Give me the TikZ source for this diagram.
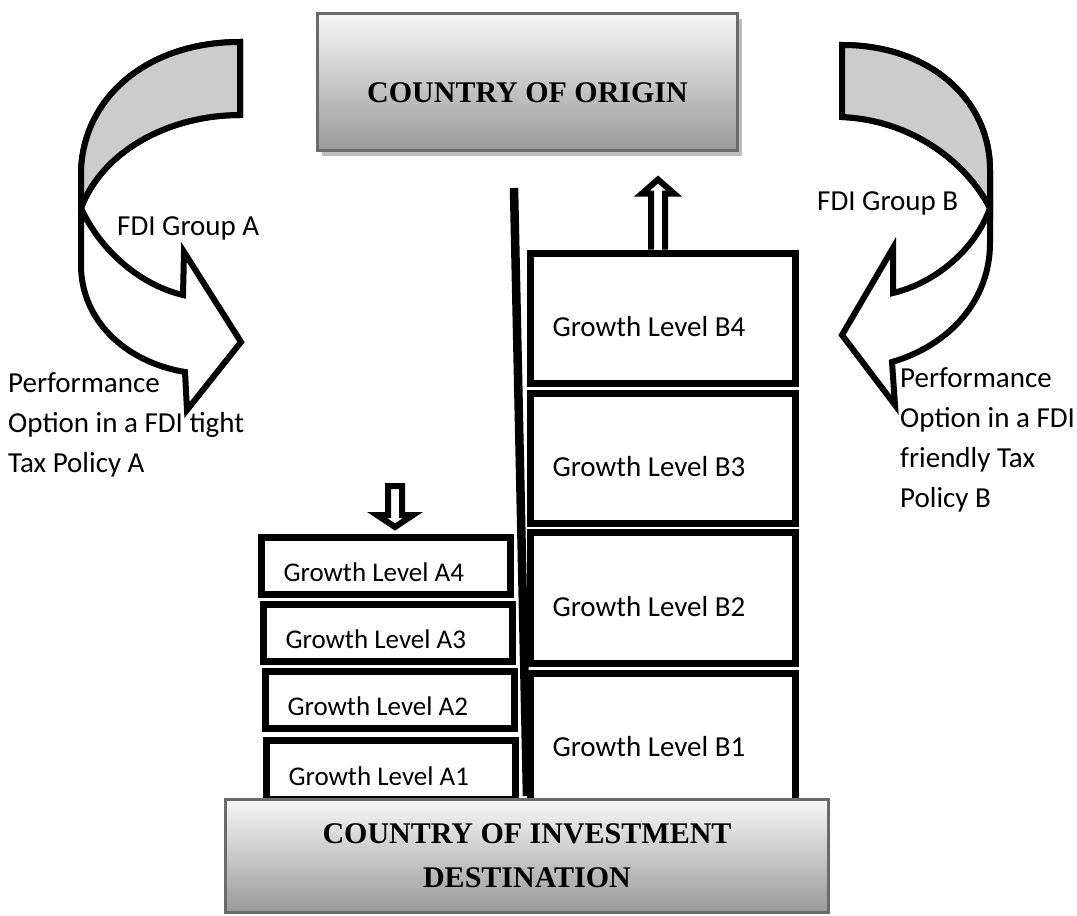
\documentclass[tikz,border=0pt]{standalone}
\usepackage{fontspec}
\setmainfont{Carlito}
\newfontfamily\timesfont{Liberation Serif}
\usetikzlibrary{shadows}

\tikzset{
	country/.style={draw=black!58, line width=3pt, top color=white!97!black, bottom color=black!40, align=center, font=\timesfont\bfseries\fontsize{30}{44}\selectfont},
	levelA/.style={draw, line width=7pt, fill=white, align=flush left, inner xsep=22pt, text width=205pt, minimum height=57pt, text height=31pt, text depth=0pt, font=\fontsize{27}{32}\selectfont},
	levelB/.style={draw, line width=7pt, fill=white, align=flush left, inner xsep=22pt, text width=221pt, minimum height=130pt, text height=36.5pt, text depth=0pt, font=\fontsize{29}{34}\selectfont},
	curvearrow/.style={draw, line width=6pt, fill=white, line join=miter},
	blockarrow/.style={draw, line width=6pt, fill=white, line join=miter},
	divider/.style={line width=8.5pt},
	note/.style={align=left, inner sep=0pt, font=\fontsize{29}{40}\selectfont}
}

\begin{document}
\begin{tikzpicture}[x=1pt,y=-1pt]
	\useasboundingbox (0,0) rectangle (1077,916);
	% curved arrows
	\draw[curvearrow] (240,42) .. controls (145,42) and (81,100) .. (81,175) -- (81,265) .. controls (81,320) and (125,362) .. (185,372) -- (187,410) -- (241,342) -- (184,252) -- (183,295) .. controls (140,285) and (100,250) .. (81,208) .. controls (103,150) and (170,115) .. (240,115) -- cycle;
	\draw[curvearrow, fill=black!20] (240,42) .. controls (145,42) and (81,100) .. (81,175) -- (81,208) .. controls (103,150) and (170,115) .. (240,115) -- cycle;
	\draw[curvearrow] (842,45) .. controls (930,45) and (990,100) .. (990,170) -- (990,243) .. controls (990,300) and (950,345) .. (892,362) -- (895,405) -- (842,335) -- (893,248) -- (893,293) .. controls (935,283) and (975,250) .. (990,208) .. controls (965,160) and (910,120) .. (842,117) -- cycle;
	\draw[curvearrow, fill=black!20] (842,45) .. controls (930,45) and (990,100) .. (990,170) -- (990,208) .. controls (965,160) and (910,120) .. (842,117) -- cycle;

	\node[country, drop shadow={shadow xshift=4pt, shadow yshift=-5pt, fill=black!25, opacity=1}, minimum width=420pt, minimum height=137pt, text height=40pt, text depth=0pt] (origin) at (527.5,82) {COUNTRY OF ORIGIN};

	\node[levelB] (B4) at (663,318) {Growth Level B4};
	\node[levelB] (B3) at (663,458.5) {Growth Level B3};
	\node[levelB, minimum height=131pt] (B2) at (663,598) {Growth Level B2};
	\node[levelB] (B1) at (663,738) {Growth Level B1};

	\node[levelA] (A4) at (386,566) {Growth Level A4};
	\node[levelA] (A3) at (388,633) {Growth Level A3};
	\node[levelA] (A2) at (390,699.5) {Growth Level A2};
	\node[levelA, minimum height=59pt] (A1) at (391,770) {Growth Level A1};

	% block arrows
	\draw[blockarrow] (B4.north) ++(-12,0) -- ++(0,-56) -- ++(-9,0) -- ++(16,-14) -- ++(16,14) -- ++(-9,0) -- ++(0,56);
	\coordinate (Adown) at (388,486);
	\draw[blockarrow] (Adown) -- ++(14,0) -- ++(0,29) -- ++(11,0) -- ++(-18,12) -- ++(-18,-12) -- ++(11,0) -- cycle;

	\node[country, minimum width=603pt, minimum height=113pt] (dest) at (527,856) {COUNTRY OF INVESTMENT\\DESTINATION};
	\coordinate (divtop) at (514,188);
	\draw[divider] (divtop) -- ([yshift=2pt]dest.north);

	\node[note, anchor=base west] (groupA) at (117,235) {FDI Group A};
	\node[note, anchor=base west] (groupB) at (817,210) {FDI Group B};
	\node[note, anchor=base west] (policyA) at (8,472) {Performance\\Option in a FDI tight\\Tax Policy A};
	\node[note, anchor=base west] (policyB) at (900,507) {Performance\\Option in a FDI\\friendly Tax\\Policy B};
\end{tikzpicture}
\end{document}
